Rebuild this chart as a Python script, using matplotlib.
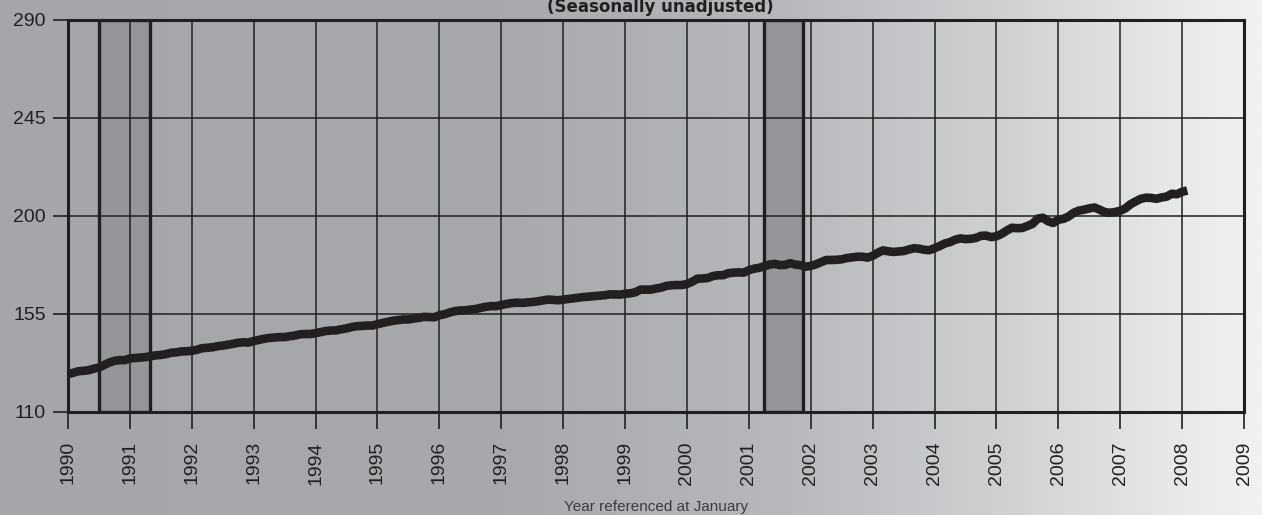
import numpy as np
import matplotlib.pyplot as plt
from matplotlib.colors import LinearSegmentedColormap

# CPI, monthly values Jan 1990 - Feb 2008 (seasonally unadjusted)
cpi_1990 = [127.4, 128.0, 128.7, 128.9, 129.2, 129.9, 130.4, 131.6, 132.7, 133.5, 133.8, 133.8]
cpi_1991 = [134.6, 134.8, 135.0, 135.2, 135.6, 136.0, 136.2, 136.6, 137.2, 137.4, 137.8, 137.9]
cpi_1992 = [138.1, 138.6, 139.3, 139.5, 139.7, 140.2, 140.5, 140.9, 141.3, 141.8, 142.0, 141.9]
cpi_1993 = [142.6, 143.1, 143.6, 144.0, 144.2, 144.4, 144.4, 144.8, 145.1, 145.7, 145.8, 145.8]
cpi_1994 = [146.2, 146.7, 147.2, 147.4, 147.5, 148.0, 148.4, 149.0, 149.4, 149.5, 149.7, 149.7]
cpi_1995 = [150.3, 150.9, 151.4, 151.9, 152.2, 152.5, 152.5, 152.9, 153.2, 153.7, 153.6, 153.5]
cpi_1996 = [154.4, 154.9, 155.7, 156.3, 156.6, 156.7, 157.0, 157.3, 157.8, 158.3, 158.6, 158.6]
cpi_1997 = [159.1, 159.6, 160.0, 160.2, 160.1, 160.3, 160.5, 160.8, 161.2, 161.6, 161.5, 161.3]
cpi_1998 = [161.6, 161.9, 162.2, 162.5, 162.8, 163.0, 163.2, 163.4, 163.6, 164.0, 164.0, 163.9]
cpi_1999 = [164.3, 164.5, 165.0, 166.2, 166.2, 166.2, 166.7, 167.1, 167.9, 168.2, 168.3, 168.3]
cpi_2000 = [168.8, 169.8, 171.2, 171.3, 171.5, 172.4, 172.8, 172.8, 173.7, 174.0, 174.1, 174.0]
cpi_2001 = [175.1, 175.8, 176.2, 176.9, 177.7, 178.0, 177.5, 177.5, 178.3, 177.7, 177.4, 176.7]
cpi_2002 = [177.1, 177.8, 178.8, 179.8, 179.8, 179.9, 180.1, 180.7, 181.0, 181.3, 181.3, 180.9]
cpi_2003 = [181.7, 183.1, 184.2, 183.8, 183.5, 183.7, 183.9, 184.6, 185.2, 185.0, 184.5, 184.3]
cpi_2004 = [185.2, 186.2, 187.4, 188.0, 189.1, 189.7, 189.4, 189.5, 189.9, 190.9, 191.0, 190.3]
cpi_2005 = [190.7, 191.8, 193.3, 194.6, 194.4, 194.5, 195.4, 196.4, 198.8, 199.2, 197.6, 196.8]
cpi_2006 = [198.3, 198.7, 199.8, 201.5, 202.5, 202.9, 203.5, 203.9, 202.9, 201.8, 201.5, 201.8]
cpi_2007 = [202.4, 203.5, 205.4, 206.7, 207.9, 208.4, 208.3, 207.9, 208.5, 208.9, 210.2, 210.0]
cpi_2008 = [211.1, 211.7]

cpi = (cpi_1990 + cpi_1991 + cpi_1992 + cpi_1993 + cpi_1994 + cpi_1995 + cpi_1996
       + cpi_1997 + cpi_1998 + cpi_1999 + cpi_2000 + cpi_2001 + cpi_2002 + cpi_2003
       + cpi_2004 + cpi_2005 + cpi_2006 + cpi_2007 + cpi_2008)
meses = 1990 + np.arange(len(cpi)) / 12

# recesiones (inicio, fin)
recesiones = [(1990.5, 1991.33), (2001.25, 2001.88)]

anios = list(range(1990, 2010))
y_ticks = [110, 155, 200, 245, 290]

oscuro = '#231f20'

fig = plt.figure(figsize=(12.62, 5.15), dpi=100)

# fondo degradado
fondo = fig.add_axes([0, 0, 1, 1], zorder=-1)
cmap = LinearSegmentedColormap.from_list('fondo', [
    (0.0, '#a5a6aa'), (0.4, '#a8a9ad'), (0.62, '#b7b8bb'),
    (0.8, '#d0d1d3'), (0.95, '#eaebec'), (1.0, '#f0f1f1')])
fondo.imshow(np.linspace(0, 1, 512)[None, :], aspect='auto', cmap=cmap,
             extent=[0, 1, 0, 1])
fondo.axis('off')

ax = fig.add_axes([68 / 1262, 103 / 515, 1176 / 1262, 392 / 515])
ax.set_facecolor('none')

for ini, fin in recesiones:
    ax.axvspan(ini, fin, facecolor='#95969a', edgecolor=oscuro, lw=2.4, zorder=1)

ax.plot(meses, cpi, color=oscuro, lw=6.2, solid_joinstyle='round',
        solid_capstyle='butt', zorder=4)

ax.set_xlim(1990, 2009)
ax.set_ylim(110, 290)
ax.set_xticks(anios)
ax.set_xticklabels([str(a) for a in anios], rotation=90, fontsize=14,
                   family='Liberation Sans', color=oscuro)
ax.set_yticks(y_ticks)
ax.set_yticklabels([str(v) for v in y_ticks], fontsize=14,
                   family='Liberation Sans', color=oscuro)
ax.tick_params(axis='x', length=12, width=1.2, color=oscuro, pad=9)
ax.tick_params(axis='y', length=11, width=1.2, color=oscuro, pad=5)
ax.grid(True, color=oscuro, lw=1.1, zorder=2)
ax.set_axisbelow(False)
for s in ax.spines.values():
    s.set_linewidth(2.2)
    s.set_color(oscuro)
    s.set_zorder(5)

ax.set_xlabel('Year referenced at January', fontsize=11, family='Liberation Sans',
              color='#3d3b3c', labelpad=11)

fig.text(0.523, 1 - 12.5 / 515, '(Seasonally unadjusted)', ha='center', va='baseline',
         fontsize=12, fontweight='bold', color=oscuro, family='DejaVu Sans')

fig.savefig('out.png', dpi=100)
